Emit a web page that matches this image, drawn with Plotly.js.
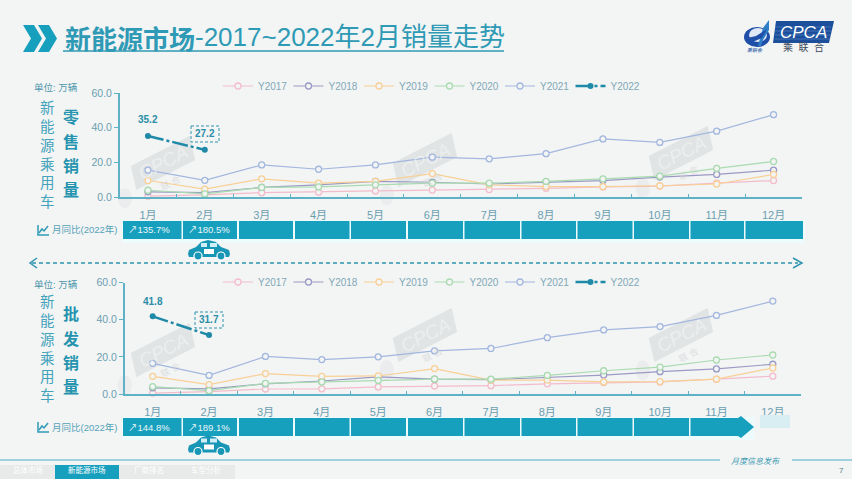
<!DOCTYPE html>
<html><head><meta charset="utf-8">
<script src="https://cdn.plot.ly/plotly-3.0.1.min.js"></script>
<style>html,body{margin:0;padding:0;background:#f3f4f4}#c{width:852px;height:479px}</style></head>
<body><div id="c"></div>
<script>
const months=['1月','2月','3月','4月','5月','6月','7月','8月','9月','10月','11月','12月'];
const yearNames=['Y2017','Y2018','Y2019','Y2020','Y2021','Y2022'];
const retail2017=[0.5,1.2,2.5,2.8,3.5,4,4.3,5,5.8,6.3,8,9.5];
const retail2018=[3,2.5,5.5,7,9,8.5,7.5,8.5,9.5,11.5,13,15.5];
const retail2019=[9.5,4.5,10.5,8,9,13.5,7,6,6,6.5,7.5,13];
const retail2020=[3.9,1.8,5.5,5.8,7,8,8,9,10.5,12,16.5,20.5];
const retail2021=[15.5,9.6,18.5,16,18.5,23,22,25,33.5,31.5,38,47.5];
const retail2022=[35.2,27.2];
const whole2017=[0.5,1.3,2.7,2.8,3.8,4.3,4.5,5.5,6.2,6.5,8,9.6];
const whole2018=[3.3,2.8,5.5,7,9.2,8,7.7,8.8,10.2,12,13.5,16];
const whole2019=[9.5,5,11,9.5,9.7,13.7,7.5,7.5,6.5,6.7,8,14];
const whole2020=[4,1.8,5.7,6.5,7.3,8,8,10,12.5,14.5,18.3,21];
const whole2021=[16.5,10,20.2,18.5,20,23.2,24.5,30.3,34.5,36.3,42.3,50];
const whole2022=[41.8,31.7];
const retailYoY=['135.7%','180.5%'];
const wholeYoY=['144.8%','189.1%'];
const seriesColors=['#f3bccb','#9a9ac4','#f8d096','#a9dbb0','#a3b7df','#1f8aa8'];

const W=852,H=479,BG='#f3f4f4',TEAL='#2f9ab5',CELL='#17a0bd',AX='#5fb2c6',TICK='#6b9fb0';
const SANS='"Liberation Sans","Noto Sans CJK SC",sans-serif';
const px=x=>x/W, py=y=>1-y/H;
const shapes=[],ann=[];
function path(pts,fill,opt={}){
  const d=pts.map((p,i)=>(i?'L':'M')+px(p[0]).toFixed(5)+','+py(p[1]).toFixed(5)).join(' ')+(opt.open?'':' Z');
  shapes.push({type:'path',xref:'paper',yref:'paper',path:d,fillcolor:opt.open?'rgba(0,0,0,0)':fill,
    line:{width:opt.w||0,color:opt.lc||fill},layer:opt.layer||'above'});
}
function rect(x0,y0,x1,y1,fill,opt={}){
  shapes.push({type:'rect',xref:'paper',yref:'paper',x0:px(x0),x1:px(x1),y0:py(y0),y1:py(y1),fillcolor:fill,
    line:{width:opt.w||0,color:opt.lc||fill,dash:opt.dash||'solid'},layer:opt.layer||'above'});
}
function oval(x0,y0,x1,y1,fill,opt={}){
  shapes.push({type:'circle',xref:'paper',yref:'paper',x0:px(x0),x1:px(x1),y0:py(y0),y1:py(y1),fillcolor:fill,
    line:{width:opt.w||0,color:opt.lc||fill},layer:opt.layer||'above'});
}
function line(x0,y0,x1,y1,c,w,dash){
  shapes.push({type:'line',xref:'paper',yref:'paper',x0:px(x0),x1:px(x1),y0:py(y0),y1:py(y1),line:{color:c,width:w,dash:dash||'solid'},layer:'above'});
}
function T(x,y,text,size,color,o={}){
  ann.push({xref:'paper',yref:'paper',x:px(x),y:py(y),text,showarrow:false,xanchor:o.a||'center',yanchor:'middle',
    textangle:o.rot||0,font:{size,color,family:o.f||SANS}});
}
// watermarks
function watermark(cx,cy){
  const c='rgba(208,211,213,0.5)';
  const a=-27*Math.PI/180,R=(dx,dy)=>[cx+dx*Math.cos(a)-dy*Math.sin(a),cy+dx*Math.sin(a)+dy*Math.cos(a)];
  path([R(-30,-12),R(36,-12),R(30,12),R(-36,12)],c,{layer:'below'});
  T(cx,cy,'<i>CPCA</i>',19,'rgba(246,247,247,0.55)',{rot:-27,f:'Liberation Sans'});
  const p=R(-2,21);T(p[0],p[1],'联 合',9,'rgba(205,208,210,0.6)',{rot:-27});
  const q=R(-50,14);
  oval(q[0]-7,q[1]-10,q[0]+7,q[1]+10,'rgba(226,228,229,0.5)',{layer:'below'});
}
[[163,163],[425,160],[681,153],[163,350],[425,335],[681,335]].forEach(p=>watermark(p[0],p[1]));

// header
path([[23,25],[34,25],[42,38.5],[34,52],[23,52],[31,38.5]],'#17a0bd');
path([[38,25],[49,25],[57,38.5],[49,52],[38,52],[46,38.5]],'#17a0bd');
T(63,37,'<b>新能源市场</b>',26,TEAL,{a:'left',f:'"Noto Sans CJK SC",sans-serif'});
T(193,37,'-2017~2022年2月销量走势',26,TEAL,{a:'left'});
line(63,51,504,51,TEAL,1.5);
// logo
path([[776,21],[834,21],[829,43],[773,43]],'#1b4f9c');
[27,31,35,39].forEach(y=>line(775,y,831,y,'rgba(200,220,245,0.35)',0.7));
T(803,32,'<i>CPCA</i>',17,'#ffffff',{f:'Liberation Sans'});
T(803,47.5,'乘  联  合',10,'#3c4a5c');
oval(744,27,770,47,'#1f4fa8');
oval(749,28,767,42,'#dfe9f5');
path([[758,46],[763,28],[769,20],[769,30],[763,40],[761,46]],'#2f7fc8');
path([[747,38],[756,36],[767,29],[762,38],[750,43]],'#1f4fa8');
T(755,50,'<i>乘联会</i>',5,'#1d56a5');

// panels
function panel(o){
  T(56,o.unitY,'单位: 万辆',9.5,'#4d97ac');
  T(47,o.a0+46,'新<br>能<br>源<br>乘<br>用<br>车',14.5,'#42a3bb');
  o.side.split('').forEach((c,i)=>T(71,o.b0+i*24.5,'<b>'+c+'</b>',16,'#2694ae'));
  rect(122,o.cellTop-1,o.stripEnd,o.cellTop+22,'#eefbfd',{layer:'below'});
  o.cells.forEach((c,i)=>{
    if(o.arrow&&i===o.cells.length-1){
      path([[c[0],o.cellTop],[738,o.cellTop],[741,o.cellTop-2],[754,o.cellTop+9],[741,o.cellTop+20],[738,o.cellTop+18],[c[0],o.cellTop+18]],CELL);
    } else rect(c[0],o.cellTop,c[1],o.cellTop+18,CELL);
    if(o.yoy[i]) T(c[0]+3,o.cellTop+9,'↗'+o.yoy[i],9.5,'#eaf7fa',{a:'left'});
  });
  T(84,o.cellTop+9,'月同比(2022年)',9.5,'#55a3b8');
  path([[38,o.cellTop+4],[38,o.cellTop+14],[49,o.cellTop+14]],'',{open:true,w:1.5,lc:TEAL});
  path([[39,o.cellTop+12],[42,o.cellTop+8],[44,o.cellTop+10],[48,o.cellTop+5]],'',{open:true,w:1.5,lc:TEAL});
  const t=o.carTop;
  path([[188,t+14],[189,t+10],[196,t+7],[201,t+2],[208,t],[216,t+2],[221,t+7],[229,t+10],[230,t+14],[229,t+17],[189,t+17]],'#1796b5');
  oval(194,t+12,202,t+20,'#1796b5',{w:1.2,lc:'#ffffff'});
  oval(217,t+12,225,t+20,'#1796b5',{w:1.2,lc:'#ffffff'});
  rect(204,t+9,214,t+14,'#ffffff');
  rect(201,t+3,207,t+7,'#cfeef5');rect(210,t+3,217,t+7,'#cfeef5');
  rect(o.box[0],o.box[1],o.box[2],o.box[3],'rgba(0,0,0,0)',{w:1,lc:'#2f94ad',dash:'3px,2px'});
}
panel({unitY:87,a0:109,b0:117,side:'零售销量',cellTop:221,stripEnd:805,carTop:240,yoy:retailYoY,arrow:false,box:[191,126,219,142],
  cells:[[123,181.5],[183,237],[239,293],[295,349.5],[351,406],[408,463],[464.5,520],[521.5,576],[577.5,632.5],[634,689],[690.5,744],[745.5,803]]});
panel({unitY:284,a0:303,b0:314,side:'批发销量',cellTop:418,stripEnd:754,carTop:435.5,yoy:wholeYoY,arrow:true,box:[195,312,223,328],
  cells:[[123,181.5],[183,237],[239,293],[295,349.5],[351,406],[408,463],[464.5,520],[521.5,576],[577.5,632.5],[634,689],[690.5,744]]});
rect(760,415,790,428,'#d8eef2');

// dashed arrow
line(32,263,798,263,'#2f94ad',1.5,'4px,3px');
path([[37,258],[30,263],[37,268]],'',{open:true,w:1.5,lc:'#2f94ad'});
path([[793,258],[802,263],[793,268]],'',{open:true,w:1.5,lc:'#2f94ad'});

// footer
line(0,460,720,460,'#4fb0c6',1.2);
line(792,460,852,460,'#4fb0c6',1.2);
T(755,461,'<i>月度信息发布</i>',8,'#3f9db5');
T(841,470,'7',8,'#5c7f8a');
rect(0,465,55,479,'#e8e9e9');rect(55,465,119,479,'#17a0bd');rect(119,465,235,479,'#e8e9e9');
[['总体市场',28],['新能源市场',87],['厂商排名',149],['车型分析',206]].forEach(t=>T(t[1],470,t[0],7.5,'#ffffff'));

// data labels read from the series
ann.push({xref:'x',yref:'y',x:months[0],y:retail2022[0],yshift:16,text:'<b>'+retail2022[0].toFixed(1)+'</b>',showarrow:false,font:{size:10,color:'#2b8ea8',family:SANS}});
ann.push({xref:'x',yref:'y',x:months[1],y:retail2022[1],yshift:16,text:'<b>'+retail2022[1].toFixed(1)+'</b>',showarrow:false,font:{size:10,color:'#2b8ea8',family:SANS}});
ann.push({xref:'x2',yref:'y2',x:months[0],y:whole2022[0],yshift:15,text:'<b>'+whole2022[0].toFixed(1)+'</b>',showarrow:false,font:{size:10,color:'#2b8ea8',family:SANS}});
ann.push({xref:'x2',yref:'y2',x:months[1],y:whole2022[1],yshift:16,text:'<b>'+whole2022[1].toFixed(1)+'</b>',showarrow:false,font:{size:10,color:'#2b8ea8',family:SANS}});

function trace(i,y,xa,ya,leg){
  const is22=i===5;
  return {type:'scatter',mode:'lines+markers',name:yearNames[i],x:months.slice(0,y.length),y,xaxis:xa,yaxis:ya,legend:leg,
    line:{color:seriesColors[i],width:is22?2.5:1.2,dash:is22?'16px,3px,3px,3px':'solid'},
    marker:is22?{size:6,color:seriesColors[i]}:{size:6,color:BG,line:{color:seriesColors[i],width:1.3}},cliponaxis:false,hoverinfo:'skip'};
}
const retail=[retail2017,retail2018,retail2019,retail2020,retail2021,retail2022];
const whole=[whole2017,whole2018,whole2019,whole2020,whole2021,whole2022];
const data=[...retail.map((y,i)=>trace(i,y,'x','y','legend')),...whole.map((y,i)=>trace(i,y,'x2','y2','legend2'))];

const xax=(dom,anchor)=>({domain:dom,anchor,type:'category',categoryorder:'array',categoryarray:months,range:[-0.5,11.5],
  showgrid:false,zeroline:false,showline:true,linecolor:AX,linewidth:1.5,ticks:'inside',ticklen:3,tickcolor:AX,tickson:'boundaries',
  ticklabelstandoff:7,tickfont:{size:11,color:TICK,family:SANS}});
const yax=(dom,anchor)=>({domain:dom,anchor,range:[0,60],tickvals:[0,20,40,60],tickformat:'.1f',showgrid:false,zeroline:false,
  showline:true,linecolor:AX,linewidth:1.5,ticks:'outside',ticklen:4,tickcolor:AX,tickfont:{size:10.5,color:TICK,family:'Liberation Sans'}});
const leg=(y)=>({orientation:'h',x:px(218),y:py(y),xanchor:'left',yanchor:'middle',bgcolor:'rgba(0,0,0,0)',entrywidth:25.5,entrywidthmode:'pixels',
  itemwidth:30,font:{size:10,color:'#7fa9b8',family:'Liberation Sans'},tracegroupgap:0});
const layout={width:W,height:H,margin:{l:0,r:0,t:0,b:0},paper_bgcolor:BG,plot_bgcolor:'rgba(0,0,0,0)',showlegend:true,
  xaxis:xax([px(119.5),px(802)],'y'),yaxis:yax([py(197),py(93)],'x'),
  xaxis2:xax([px(124.5),px(801)],'y2'),yaxis2:yax([py(394),py(282.5)],'x2'),
  legend:leg(86),legend2:leg(282),shapes,annotations:ann};
Plotly.newPlot('c',data,layout,{displayModeBar:false,staticPlot:true});
</script></body></html>
